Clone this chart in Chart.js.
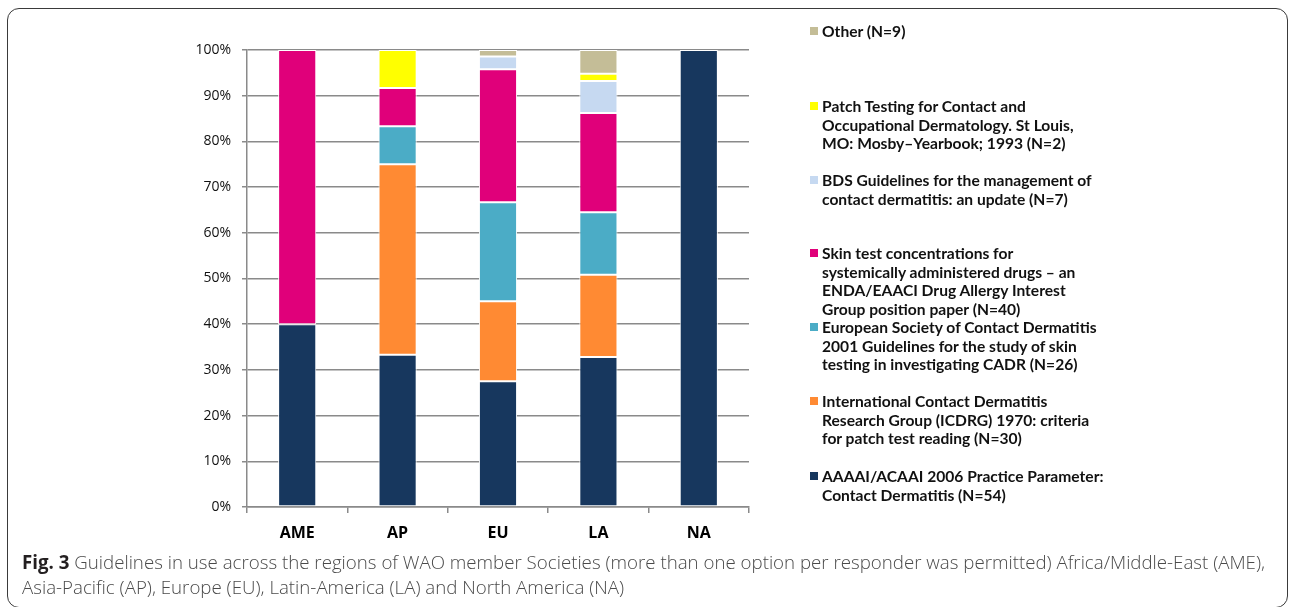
<!DOCTYPE html>
<html>
<head>
<meta charset="utf-8">
<script src="https://cdn.jsdelivr.net/npm/chart.js@4.4.0/dist/chart.umd.min.js"></script>
<style>
  html, body { margin: 0; padding: 0; background: #fff; }
  body { width: 1289px; height: 607px; position: relative; overflow: hidden; }
  #frame { position: absolute; left: 7px; top: 8px; width: 1281px; height: 600px;
           border: 1.5px solid #3a3a3a; border-radius: 12px; box-sizing: border-box; }
  #chart { position: absolute; left: 0; top: 0; }
  #legend { position: absolute; left: 0; top: 0; width: 1289px; height: 560px; pointer-events: none;
            font-family: Lato, "Open Sans", sans-serif; font-weight: 700; font-size: 15.6px; color: #111; }
  .item { position: absolute; left: 822px; line-height: 18.6px; white-space: nowrap; }
  .sw { position: absolute; left: -12px; top: 5px; width: 8px; height: 8px; }
  #caption { position: absolute; left: 22px; top: 549px; font-family: "Open Sans", sans-serif;
             font-size: 18.7px; line-height: 25px; color: #4a4a4a; font-weight: 300; white-space: nowrap; }
  #caption b { color: #231f20; font-weight: 700; }
</style>
</head>
<body>
<div id="frame"></div>
<canvas id="chart" width="760" height="552"></canvas>
<div id="legend"></div>
<div id="caption"><b>Fig. 3</b> Guidelines in use across the regions of WAO member Societies (more than one option per responder was permitted) Africa/Middle-East (AME),<br>Asia-Pacific (AP), Europe (EU), Latin-America (LA) and North America (NA)</div>
<script>
// Categories
const regions = ["AME", "AP", "EU", "LA", "NA"];
// Y tick labels (percent)
const yTicks = [0, 10, 20, 30, 40, 50, 60, 70, 80, 90, 100];

// Series values (% of responders per region), bottom to top of the stack
const aaaai   = [40, 33.3, 27.5, 32.8, 100];
const icdrg   = [null, 41.7, 17.5, 18.0, null];
const escd    = [null, 8.3, 21.7, 13.7, null];
const skin    = [60, 8.4, 29.1, 21.7, null];
const bds     = [null, null, 2.8, 7.0, null];
const patch   = [null, 8.3, null, 1.6, null];
const other   = [null, null, 1.4, 5.2, null];

// Series names (legend lines)
const nameAaaai = ["AAAAI/ACAAI 2006 Practice Parameter:", "Contact Dermatitis (N=54)"];
const nameIcdrg = ["International Contact Dermatitis", "Research Group (ICDRG) 1970: criteria", "for patch test reading (N=30)"];
const nameEscd  = ["European Society of Contact Dermatitis", "2001 Guidelines for the study of skin", "testing in investigating CADR (N=26)"];
const nameSkin  = ["Skin test concentrations for", "systemically administered drugs \u2013 an", "ENDA/EAACI Drug Allergy Interest", "Group position paper (N=40)"];
const nameBds   = ["BDS Guidelines for the management of", "contact dermatitis: an update (N=7)"];
const namePatch = ["Patch Testing for Contact and", "Occupational Dermatology. St Louis,", "MO: Mosby\u2013Yearbook; 1993 (N=2)"];
const nameOther = ["Other (N=9)"];

const colors = ["#17375e", "#ff8a33", "#4bacc6", "#e0007a", "#c6d9f1", "#ffff00", "#c4bd97"];
const series = [aaaai, icdrg, escd, skin, bds, patch, other];
const names = [nameAaaai, nameIcdrg, nameEscd, nameSkin, nameBds, namePatch, nameOther];
// legend item top positions (top-to-bottom in legend = reverse stack order)
const legendTops = [467, 392, 318, 244, 171, 97, 22];

const datasets = series.map((d, i) => ({
  label: names[i].join(" "),
  data: d,
  backgroundColor: colors[i],
  borderColor: "#ffffff",
  borderWidth: 1,
  borderSkipped: false,
  categoryPercentage: 1.0,
  barPercentage: 0.38
}));

new Chart(document.getElementById("chart"), {
  type: "bar",
  data: { labels: regions, datasets: datasets },
  options: {
    responsive: false,
    animation: false,
    layout: { padding: { top: 50, right: 11, bottom: 0, left: 0 } },
    plugins: { legend: { display: false }, tooltip: { enabled: false } },
    scales: {
      x: {
        stacked: true,
        grid: { display: true, drawOnChartArea: false, drawTicks: true, tickLength: 6,
                color: "#8a8a8a", lineWidth: 1.5, offset: true },
        border: { display: true, color: "#8a8a8a", width: 1.5 },
        ticks: { color: "#000", font: { family: "'Open Sans', sans-serif", size: 16, weight: "bold" }, padding: 11 },
        afterFit: (s) => { s.height = 45; }
      },
      y: {
        stacked: true,
        min: 0, max: 100,
        afterBuildTicks: (s) => { s.ticks = yTicks.map(v => ({ value: v })); },
        grid: { color: "#8a8a8a", lineWidth: 1.5, drawTicks: true, tickLength: 5 },
        border: { display: true, color: "#8a8a8a", width: 1.5 },
        ticks: { color: "#111", font: { family: "'Open Sans', sans-serif", size: 14 }, padding: 11,
                 callback: (v) => v + "%" },
        afterFit: (s) => { s.width = 247; }
      }
    }
  }
});

// HTML legend
const legend = document.getElementById("legend");
series.forEach((d, i) => {
  const it = document.createElement("div");
  it.className = "item";
  it.style.top = legendTops[i] + "px";
  const sw = document.createElement("span");
  sw.className = "sw";
  sw.style.background = colors[i];
  it.appendChild(sw);
  names[i].forEach((line, j) => {
    if (j > 0) it.appendChild(document.createElement("br"));
    it.appendChild(document.createTextNode(line));
  });
  legend.appendChild(it);
});
</script>
</body>
</html>
